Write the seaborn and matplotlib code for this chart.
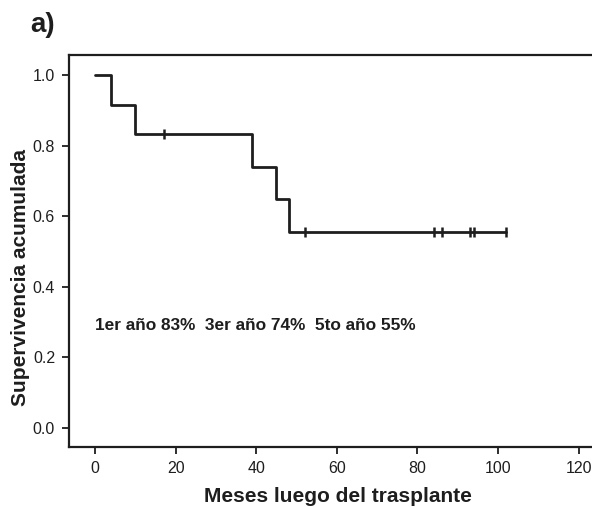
import numpy as np
import pandas as pd
import matplotlib
matplotlib.use("Agg")
import matplotlib.pyplot as plt
import seaborn as sns

# Data
event_times = [4, 10, 39, 45, 48]                 # deaths (months)
censor_times = [17, 52, 84, 86, 93, 94, 102]      # censored (months)
x_ticks = [0, 20, 40, 60, 80, 100, 120]
y_ticks = [0.0, 0.2, 0.4, 0.6, 0.8, 1.0]
annotation = "1er año 83%  3er año 74%  5to año 55%"
x_label = "Meses luego del trasplante"
y_label = "Supervivencia acumulada"
panel = "a)"

# Kaplan-Meier estimate from the event/censor times
times = sorted([(t, 1) for t in event_times] + [(t, 0) for t in censor_times])
n_at_risk = len(times)
s = 1.0
step_x, step_y = [0.0], [1.0]
cens_x, cens_y = [], []
for t, ev in times:
    if ev:
        s *= (n_at_risk - 1) / n_at_risk
        step_x.append(t); step_y.append(s)
    else:
        cens_x.append(t); cens_y.append(s)
    n_at_risk -= 1
step_x.append(max(censor_times)); step_y.append(s)
steps = pd.DataFrame({"t": step_x, "s": step_y})
cens = pd.DataFrame({"t": cens_x, "s": cens_y})

sns.set_style("ticks")
plt.rcParams["font.family"] = ["Liberation Sans", "DejaVu Sans"]

fig = plt.figure(figsize=(5.92, 5.07), dpi=100)
ax = fig.add_axes([69/592, 60/507, 1 - 69/592 + 0.01, (447-55)/507])

col = "#1e1e1e"
sns.lineplot(data=steps, x="t", y="s", drawstyle="steps-post", estimator=None,
             color=col, linewidth=2.0, ax=ax)
sns.scatterplot(data=cens, x="t", y="s", marker="|", s=50, linewidth=1.8,
                color=col, ax=ax, zorder=3)

ax.set_xlim(-6.5, 124.8)
ax.set_ylim(-0.054, 1.057)
ax.set_xticks(x_ticks)
ax.set_yticks(y_ticks)
ax.set_xticklabels([str(v) for v in x_ticks])
ax.set_yticklabels([f"{v:.1f}" for v in y_ticks])
ax.tick_params(direction="out", length=5, width=1.3, labelsize=11.5, colors=col, pad=5)
for sp in ax.spines.values():
    sp.set_linewidth(1.6)
    sp.set_color(col)
ax.spines["right"].set_visible(False)

ax.set_xlabel(x_label, fontsize=15, fontweight="bold", color=col)
ax.xaxis.set_label_coords((335 - 69) / 523, -(497 - 447) / 392)
ax.set_ylabel(y_label, fontsize=15, fontweight="bold", color=col)
ax.yaxis.set_label_coords(-(69 - 21) / 523, (447 - 277) / 392)
ax.xaxis.label.set_va("center")
ax.yaxis.label.set_va("center")
ax.text(0, 0.29, annotation, fontsize=12.4, fontweight="bold", color=col,
        va="center", ha="left")
fig.text(30/592, 1 - 25/507, panel, fontsize=20, fontweight="bold", color=col,
         va="center", ha="left")

fig.savefig("out.png", dpi=100)
